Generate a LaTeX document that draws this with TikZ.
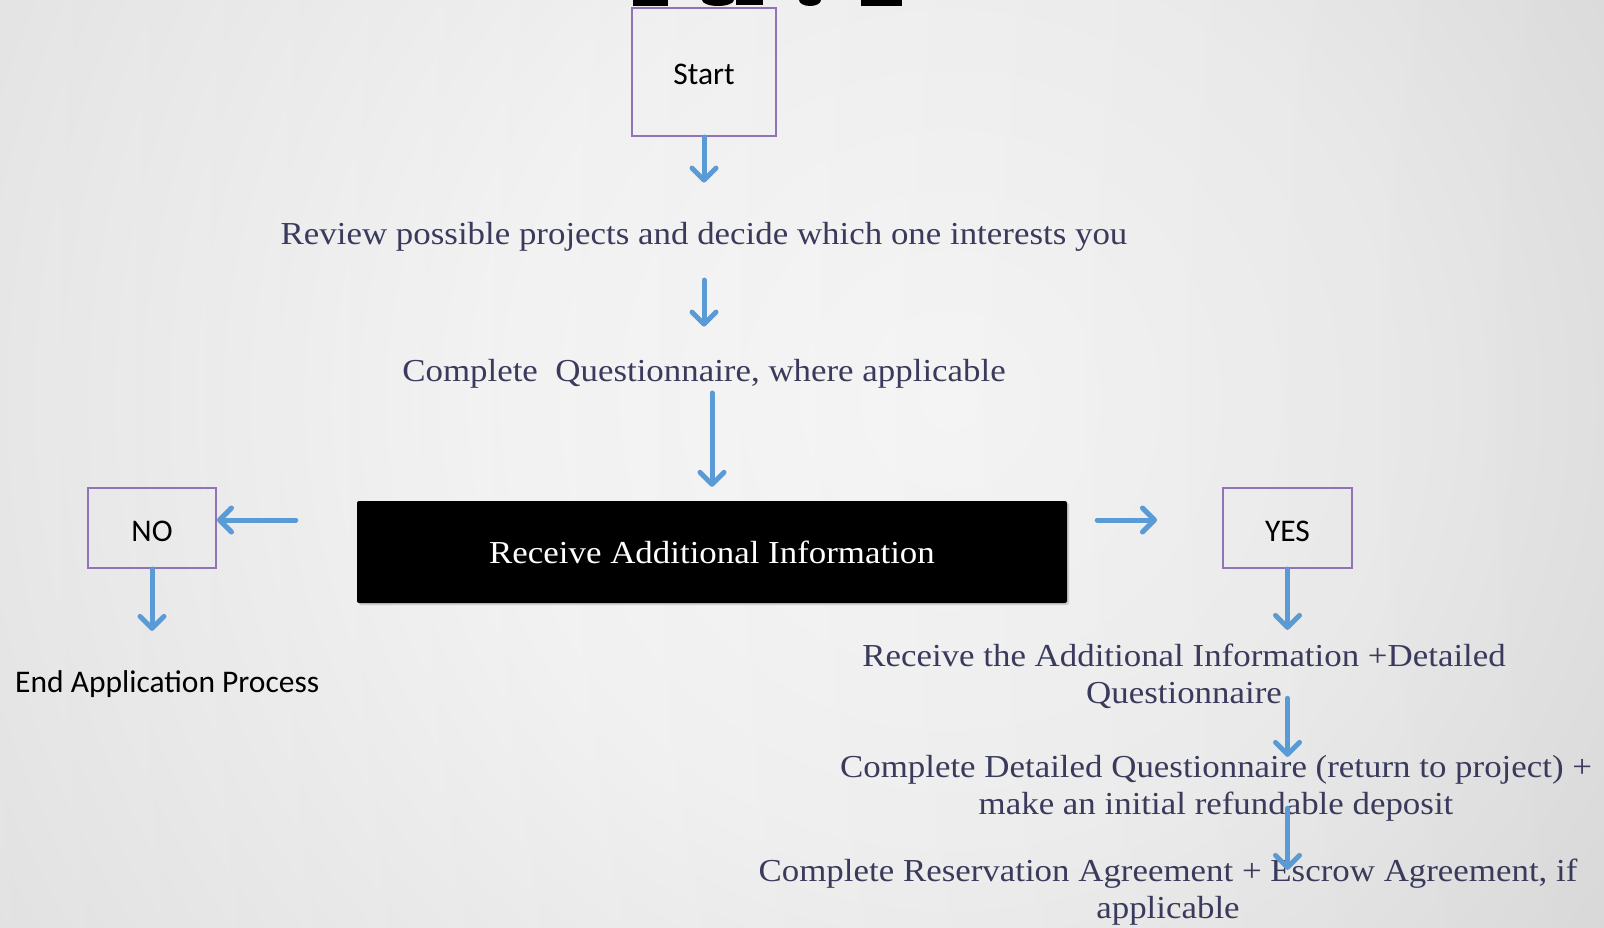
\documentclass[tikz,border=0pt]{standalone}
\usepackage{fontspec}
\setmainfont[FakeStretch=1.09]{Liberation Serif}
\newfontfamily\carlito{Carlito}
\usetikzlibrary{arrows.meta,shadows,calc}
\definecolor{arrowblue}{RGB}{91,155,213}
\definecolor{boxpurple}{RGB}{146,115,184}
\definecolor{txtnavy}{RGB}{58,58,92}
\pgfdeclareradialshading{bgshade}{\pgfpoint{0bp}{0bp}}{color(0bp)=(white); color(10bp)=(white!97!black); color(28bp)=(white!85!black); color(50bp)=(white!71!black)}
\newcommand\twolines[2]{\begin{tabular}[t]{@{}c@{}}#1\\#2\end{tabular}}
\tikzset{
  sbox/.style={draw=boxpurple, line width=2pt, inner sep=0pt, font=\carlito\fontsize{31.5}{36}\selectfont, text=black,
    text height=27pt, text depth=0pt},
  stxt/.style={inner sep=0pt, text=txtnavy, font=\fontsize{32}{37}\selectfont},
  ctxt/.style={inner sep=0pt, text=black, font=\carlito\fontsize{31.5}{36}\selectfont},
  blackbox/.style={fill=black, rounded corners=2pt, inner sep=0pt, text=white, font=\fontsize{32}{37}\selectfont,
    drop shadow={opacity=0.3, shadow xshift=2pt, shadow yshift=-2pt}},
  arr/.style={draw=arrowblue, line width=5pt, line cap=round, -{Straight Barb[length=12pt, width=24pt, round]}}
}
\begin{document}
\begin{tikzpicture}[x=1pt, y=-1pt]
\useasboundingbox (0,0) rectangle (1604,928);
\begin{scope}
  \clip (0,0) rectangle (1604,928);
  \shade[shading=bgshade] (950,400) circle (1150);
  \shade[left color=white, right color=black, opacity=0.07] (0,0) rectangle (1604,928);
  % bottom of a title cut off at the top edge
  \fill[black] (633,0) rectangle (668,6);
  \fill[black] (718,0) ellipse (16 and 6);
  \fill[black] (736,0) rectangle (763,5);
  \fill[black] (810,0) ellipse (11 and 6);
  \fill[black] (861,0) rectangle (902,6);
\end{scope}

\node[sbox, minimum width=144pt, minimum height=128pt, text height=26pt] (start) at (704,72) {Start};
\node[stxt, anchor=base] (review) at (704,245) {Review possible projects and decide which one interests you};
\node[stxt, anchor=base] (quest) at (704,381) {Complete~ Questionnaire, where applicable};
\node[blackbox, minimum width=710pt, minimum height=102pt] (info) at (712,552) {Receive Additional Information};
\node[sbox, minimum width=128pt, minimum height=80pt] (no) at (152,528) {NO};
\node[sbox, minimum width=129pt, minimum height=80pt] (yes) at (1287.5,528) {YES};
\node[ctxt, anchor=base west] (endp) at (15,692) {End Application Process};
\node[stxt, anchor=base] (rt) at (1184,666) {\twolines{Receive the Additional Information +Detailed}{Questionnaire}};
\node[stxt, anchor=base] (cd) at (1216,777) {\twolines{Complete Detailed Questionnaire (return to project) +}{make an initial refundable deposit}};
\node[stxt, anchor=base] (cr) at (1168,881) {\twolines{Complete Reservation Agreement + Escrow Agreement, if}{applicable}};

\path ([yshift=8pt]no.east) coordinate (noin);
\path ([yshift=8pt]yes.west) coordinate (yesin);

\draw[arr, shorten >=40pt] (start.south) -- (review.north);
\draw[arr, shorten <=28pt, shorten >=32pt] (review.south) -- (quest.north);
\draw[arr, shorten <=5pt, shorten >=14pt] (quest.south -| info.north) -- (info.north);
\draw[arr, shorten <=61pt] (info.west |- noin) -- (noin);
\draw[arr, shorten <=30pt, shorten >=65pt] (info.east |- yesin) -- (yesin);
\draw[arr, shorten >=39pt] (no.south) -- (no.south |- endp.north);
\draw[arr, shorten >=10pt] (yes.south) -- (yes.south |- rt.north);
\draw[arr, shorten <=-16pt, shorten >=-6pt] (rt.south -| yes.south) -- (cd.north -| yes.south);
\draw[arr, shorten <=-17pt, shorten >=-15pt] (cd.south -| yes.south) -- (cr.north -| yes.south);
\end{tikzpicture}
\end{document}
